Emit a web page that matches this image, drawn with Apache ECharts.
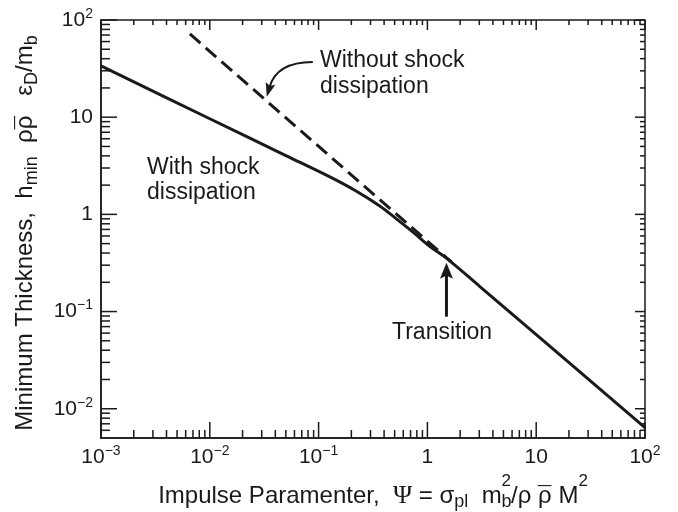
<!DOCTYPE html>
<html><head><meta charset="utf-8">
<script src="https://cdn.jsdelivr.net/npm/echarts@6/dist/echarts.min.js"></script>
<style>html,body{margin:0;padding:0;background:#fff}#c{width:678px;height:512px}</style>
</head><body><div id="c"></div>
<script>
// ---- axis ranges & ticks ----
const X_MIN = 0.001, X_MAX = 100, Y_MIN = 0.005, Y_MAX = 100;
const xMajorTicks = [0.001, 0.01, 0.1, 1, 10, 100];
const xTickLabels = [['10','−3'], ['10','−2'], ['10','−1'], ['1',''], ['10',''], ['10','2']];
const yMajorTicks = [0.01, 0.1, 1, 10, 100];
const yTickLabels = [['10','−2'], ['10','−1'], ['1',''], ['10',''], ['10','2']];
const minorMultipliers = [2, 3, 4, 5, 6, 7, 8, 9];
const xDecades = [0.001, 0.01, 0.1, 1, 10];
const yDecades = [0.001, 0.01, 0.1, 1, 10];

// ---- series values ----
const withShockX = [0.001, 0.01, 0.05, 0.127, 0.215, 0.365, 0.512, 0.733, 1.05, 1.503, 3.0, 100];
const withShockY = [33.7, 9.64, 4.03, 2.43, 1.77, 1.22, 0.91, 0.66, 0.47, 0.352, 0.183, 0.0064];
const withoutShockX = [0.00656, 0.0885, 1.67];
const withoutShockY = [71.8, 5.64, 0.322];

// ---- annotation arrows (data coords: from -> tip) ----
const arrowFrom = [[0.0885, 37], [1.497, 0.0887]];
const arrowTo = [[0.0334, 16.2], [1.497, 0.318]];
const arrowStyle = [
  { curveness: 0.38, width: 2, headLen: 14, headW: 10 },
  { curveness: 0, width: 3, headLen: 16, headW: 13 }
];

const FONT = "'Liberation Sans', Arial, Helvetica, sans-serif";
const INK = '#1a1a1a';

function zip(xs, ys) { return xs.map((x, i) => [x, ys[i]]); }

const tickData = [];
xMajorTicks.forEach(v => tickData.push([v, Y_MIN, 0, 1]));
xDecades.forEach(d => minorMultipliers.forEach(m => {
  const v = d * m; if (v > X_MIN && v < X_MAX) tickData.push([v, Y_MIN, 0, 0]);
}));
yMajorTicks.forEach(v => tickData.push([X_MIN, v, 1, 1]));
yDecades.forEach(d => minorMultipliers.forEach(m => {
  const v = d * m; if (v > Y_MIN && v < Y_MAX) tickData.push([X_MIN, v, 1, 0]);
}));

function labelFormatter(ticks, labels) {
  return function (v) {
    for (let i = 0; i < ticks.length; i++) {
      if (Math.abs(Math.log10(v) - Math.log10(ticks[i])) < 1e-6) {
        const [b, e] = labels[i];
        return e ? '{b|' + b + '}{sup|' + e + '}' : '{b|' + b + '}';
      }
    }
    return '';
  };
}

const tickRich = {
  b: { fontFamily: FONT, fontSize: 21, color: INK, lineHeight: 26, verticalAlign: 'middle' },
  sup: { fontFamily: FONT, fontSize: 14, color: INK, padding: [0, 0, 12, 0], verticalAlign: 'middle' }
};

const nameRich = {
  a: { fontFamily: FONT, fontSize: 24, color: INK, lineHeight: 28, verticalAlign: 'middle', align: 'left' },
  m: { fontFamily: FONT, fontSize: 24, color: INK, lineHeight: 28, verticalAlign: 'middle', align: 'left' },
  ov: { fontFamily: FONT, fontSize: 24, color: INK, lineHeight: 28, verticalAlign: 'middle', width: 0, align: 'left' },
  psi: { fontFamily: "'Liberation Serif', 'Times New Roman', serif", fontSize: 26, color: INK, lineHeight: 28, verticalAlign: 'middle', align: 'left' },
  sub: { fontFamily: FONT, fontSize: 18, color: INK, padding: [13, 0, 0, 0], verticalAlign: 'middle', align: 'left' },
  sb: { fontFamily: FONT, fontSize: 18, color: INK, padding: [13, 0, 0, 0], width: 0, verticalAlign: 'middle', align: 'left' },
  sup: { fontFamily: FONT, fontSize: 17, color: INK, padding: [0, 0, 30, 0], verticalAlign: 'middle', align: 'left' },
  gap: { width: 8, lineHeight: 28 }
};

const chart = echarts.init(document.getElementById('c'), null, { renderer: 'canvas' });
chart.setOption({
  animation: false,
  backgroundColor: '#fff',
  grid: { left: 101, right: 33, top: 20, bottom: 74, containLabel: false, outerBoundsMode: 'none', show: true, borderColor: INK, borderWidth: 1.5, backgroundColor: 'transparent' },
  xAxis: {
    type: 'log', logBase: 10, min: X_MIN, max: X_MAX,
    axisLine: { show: true, lineStyle: { color: INK, width: 1.5 } },
    axisTick: { show: false }, splitLine: { show: false }, minorTick: { show: false },
    axisLabel: { formatter: labelFormatter(xMajorTicks, xTickLabels), rich: tickRich, margin: 6, showMinLabel: true, showMaxLabel: true, hideOverlap: false },
    name: '{a|Impulse Paramenter,  }{psi|Ψ}{m| = σ}{sub|pl}{m|  m}{sb|b}{sup|2}{m|/ρ }{ov|¯}{m|ρ M}{sup|2}',
    nameLocation: 'middle', nameGap: 34,
    nameTextStyle: { rich: nameRich }
  },
  yAxis: {
    type: 'log', logBase: 10, min: Y_MIN, max: Y_MAX,
    axisLine: { show: true, lineStyle: { color: INK, width: 1.5 } },
    axisTick: { show: false }, splitLine: { show: false }, minorTick: { show: false },
    axisLabel: { formatter: labelFormatter(yMajorTicks, yTickLabels), rich: tickRich, margin: 8, showMinLabel: true, showMaxLabel: true, hideOverlap: false },
    name: '{a|Minimum Thickness,  h}{sub|min}{m|  ρ}{ov|¯}{m|ρ   ε}{sub|D}{m|/m}{sub|b}{gap| }',
    nameLocation: 'middle', nameGap: 60, nameRotate: 90,
    nameTextStyle: { rich: nameRich }
  },
  graphic: [
    { type: 'text', x: 320, y: 48, style: { text: 'Without shock\ndissipation', font: '23px ' + FONT, fill: INK, lineHeight: 26, verticalAlign: 'top' } },
    { type: 'text', x: 147, y: 155, style: { text: 'With shock\ndissipation', font: '23px ' + FONT, fill: INK, lineHeight: 25, verticalAlign: 'top' } },
    { type: 'text', x: 392, y: 320, style: { text: 'Transition', font: '23px ' + FONT, fill: INK, lineHeight: 26, verticalAlign: 'top' } }
  ],
  series: [
    {
      type: 'line', name: 'Without shock dissipation', data: zip(withoutShockX, withoutShockY),
      symbol: 'none', lineStyle: { color: INK, width: 3, type: [14, 7] }, z: 3
    },
    {
      type: 'line', name: 'With shock dissipation', data: zip(withShockX, withShockY),
      symbol: 'none', smooth: 0.35, lineStyle: { color: INK, width: 3 }, z: 4
    },
    {
      type: 'custom', name: 'arrows', silent: true, z: 6,
      dimensions: ['x1', 'y1', 'x2', 'y2'], encode: { x: [0, 2], y: [1, 3] },
      data: arrowFrom.map((f, i) => [f[0], f[1], arrowTo[i][0], arrowTo[i][1]]),
      renderItem: function (params, api) {
        const s = arrowStyle[params.dataIndex];
        const p1 = api.coord([api.value(0), api.value(1)]);
        const p2 = api.coord([api.value(2), api.value(3)]);
        const dx = p2[0] - p1[0], dy = p2[1] - p1[1];
        const cp = [(p1[0] + p2[0]) / 2 - s.curveness * dy, (p1[1] + p2[1]) / 2 + s.curveness * dx];
        let tx = p2[0] - cp[0], ty = p2[1] - cp[1];
        const tl = Math.hypot(tx, ty); tx /= tl; ty /= tl;
        const nx = -ty, ny = tx;
        const bx = p2[0] - s.headLen * tx, by = p2[1] - s.headLen * ty;
        const notchX = p2[0] - s.headLen * 0.8 * tx, notchY = p2[1] - s.headLen * 0.8 * ty;
        const endX = p2[0] - s.headLen * 0.7 * tx, endY = p2[1] - s.headLen * 0.7 * ty;
        return { type: 'group', children: [
          { type: 'bezierCurve', shape: { x1: p1[0], y1: p1[1], x2: endX, y2: endY, cpx1: cp[0], cpy1: cp[1] },
            style: { stroke: INK, lineWidth: s.width, fill: 'none' } },
          { type: 'polygon', shape: { points: [[p2[0], p2[1]], [bx + nx * s.headW / 2, by + ny * s.headW / 2], [notchX, notchY], [bx - nx * s.headW / 2, by - ny * s.headW / 2]] },
            style: { fill: INK } }
        ] };
      }
    },
    {
      type: 'custom', name: 'ticks', silent: true, z: 5,
      dimensions: ['x', 'y', 'side', 'major'], encode: { x: 0, y: 1 },
      data: tickData,
      renderItem: function (params, api) {
        const side = api.value(2), major = api.value(3);
        const st = { stroke: INK, lineWidth: 1.5 };
        if (side === 0) {
          const v = api.value(0);
          const b = api.coord([v, Y_MIN]), t = api.coord([v, Y_MAX]);
          const lb = major ? 16 : 8, lt = major ? 10 : 5;
          return { type: 'group', children: [
            { type: 'line', shape: { x1: b[0], y1: b[1], x2: b[0], y2: b[1] - lb }, style: st },
            { type: 'line', shape: { x1: t[0], y1: t[1], x2: t[0], y2: t[1] + lt }, style: st }
          ] };
        } else {
          const v = api.value(1);
          const l = api.coord([X_MIN, v]), r = api.coord([X_MAX, v]);
          const ll = major ? 16 : 9, lr = major ? 10 : 5;
          return { type: 'group', children: [
            { type: 'line', shape: { x1: l[0], y1: l[1], x2: l[0] + ll, y2: l[1] }, style: st },
            { type: 'line', shape: { x1: r[0], y1: r[1], x2: r[0] - lr, y2: r[1] }, style: st }
          ] };
        }
      }
    }
  ]
});
</script></body></html>
